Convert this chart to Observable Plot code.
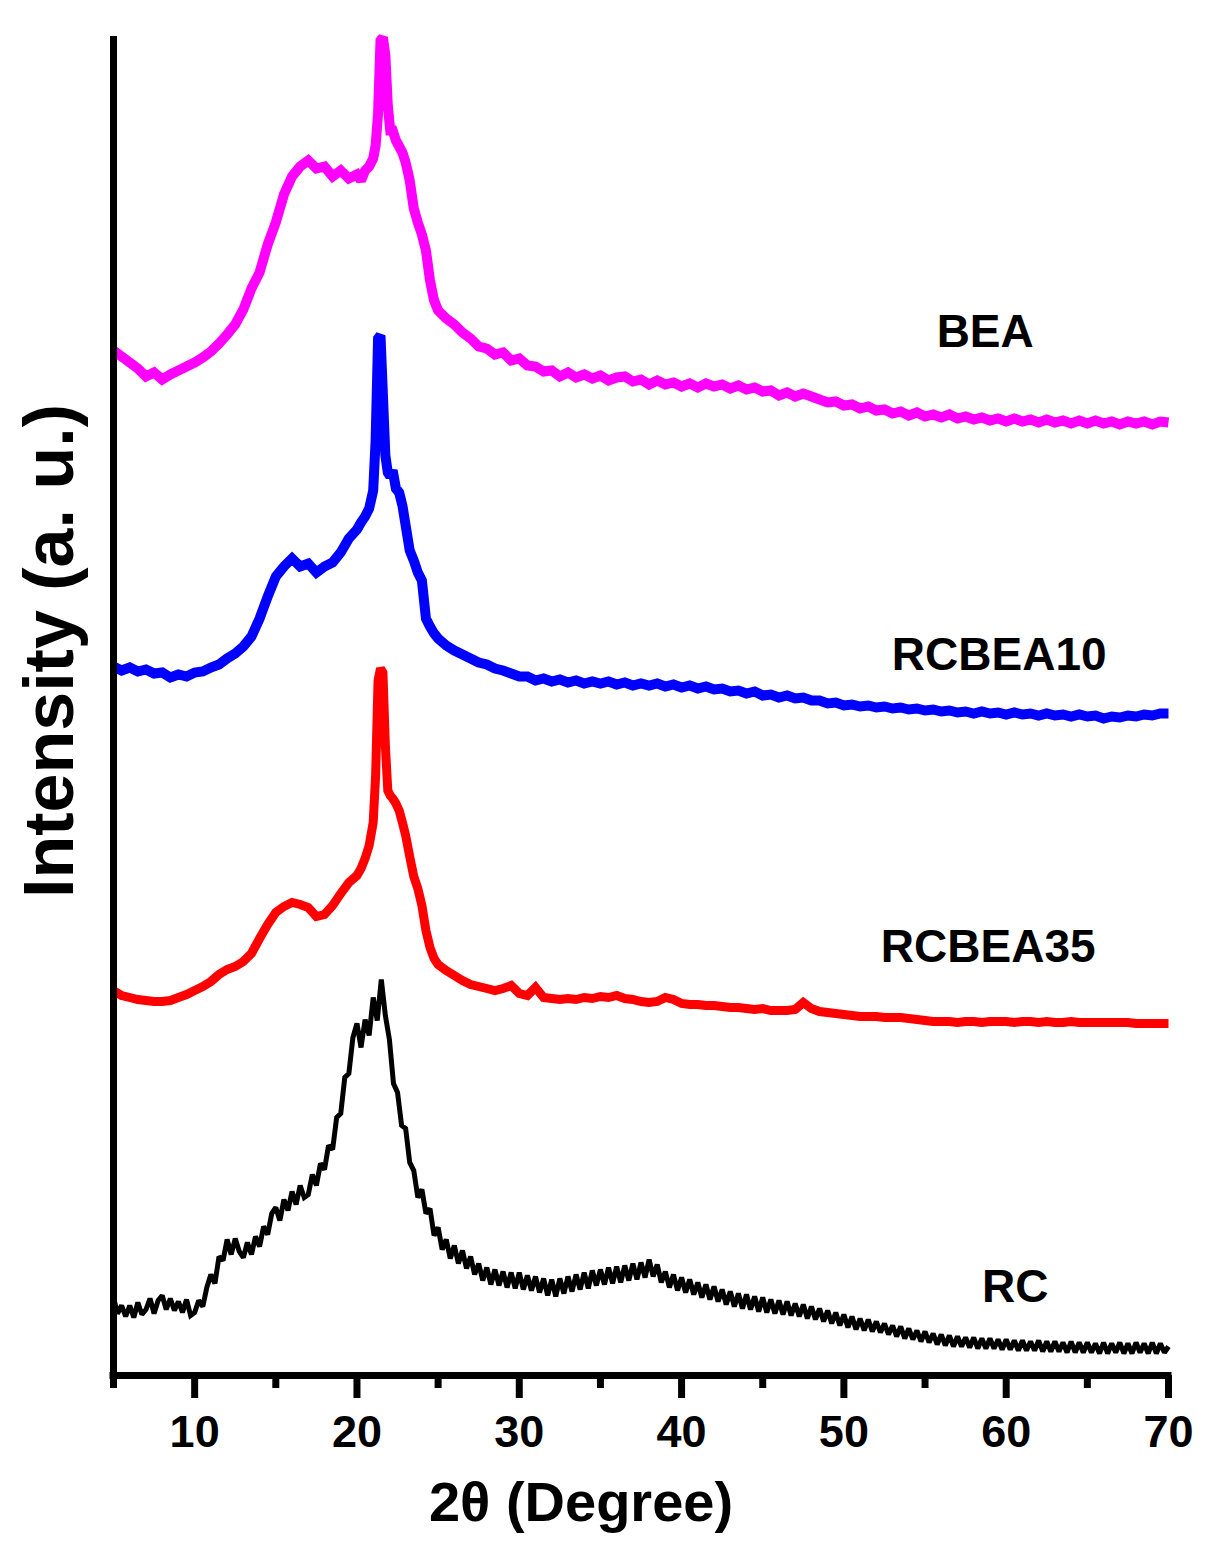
<!DOCTYPE html>
<html>
<head>
<meta charset="utf-8">
<script src="https://cdn.jsdelivr.net/npm/d3@7"></script>
<script src="https://cdn.jsdelivr.net/npm/@observablehq/plot@0.6"></script>
<style>
  html, body { margin: 0; padding: 0; background: #ffffff; }
  #chart svg { display: block; }
</style>
</head>
<body>
<div id="chart"></div>
<script>
// 2θ sampling grid (degrees) for the three smoother patterns
const twoTheta = [
  5, 5.5, 6, 6.5, 7, 7.5, 8, 8.5, 9, 9.5, 10, 10.5, 11, 11.5, 12, 12.5, 13, 13.5, 14, 14.5,
  15, 15.5, 16, 16.5, 17, 17.5, 18, 18.5, 19, 19.5, 20,
  20.25, 20.5, 20.75, 21, 21.15, 21.3, 21.45, 21.6, 21.75, 21.9, 22.05, 22.2, 22.4, 22.6, 22.8,
  23, 23.25, 23.5, 23.75, 24, 24.25, 24.5, 24.75, 25,
  25.5, 26, 26.5, 27, 27.5, 28, 28.5, 29, 29.5, 30,
  30.5, 31, 31.5, 32, 32.5, 33, 33.5, 34, 34.5, 35, 35.5, 36, 36.5, 37, 37.5, 38, 38.5, 39, 39.5, 40,
  40.5, 41, 41.5, 42, 42.5, 43, 43.5, 44, 44.5, 45, 45.5, 46, 46.5, 47, 47.5, 48, 48.5, 49, 49.5, 50,
  50.5, 51, 51.5, 52, 52.5, 53, 53.5, 54, 54.5, 55, 55.5, 56, 56.5, 57, 57.5, 58, 58.5, 59, 59.5, 60,
  60.5, 61, 61.5, 62, 62.5, 63, 63.5, 64, 64.5, 65, 65.5, 66, 66.5, 67, 67.5, 68, 68.5, 69, 69.5, 70
];

// Intensities (a. u., stacked as in the figure)
const bea = [
  1025, 1019, 1013, 1007, 999, 1003, 996, 1001, 1005, 1009, 1013, 1018, 1024, 1032, 1041, 1051, 1066, 1087, 1103, 1131,
  1153, 1181, 1199, 1209, 1215, 1207, 1209, 1199, 1205, 1197, 1201,
  1195, 1205, 1209, 1217, 1230, 1262, 1335, 1338, 1320, 1270, 1245, 1245, 1235, 1229, 1223,
  1213, 1195, 1167, 1153, 1141, 1125, 1095, 1075, 1065,
  1057, 1051, 1043, 1037, 1029, 1027, 1021, 1023, 1015, 1017,
  1010, 1009, 1004, 1005, 999, 1003, 998, 1001, 997, 1000, 995, 998, 999, 994, 996, 991, 995, 991, 993, 989,
  992, 988, 992, 989, 991, 987, 990, 986, 988, 984, 985, 980, 983, 979, 982, 979, 976, 973, 974, 970,
  971, 967, 969, 965, 966, 962, 964, 960, 963, 959, 961, 958, 961, 957, 959, 956, 958, 955, 957, 954,
  957, 954, 956, 953, 956, 953, 955, 952, 955, 952, 955, 952, 954, 951, 954, 952, 954, 951, 954, 953
];

const rcbea10 = [
  709, 705, 708, 704, 706, 702, 703, 698, 701, 699, 703, 704, 708, 711, 717, 722, 729, 739, 757, 779,
  799, 809, 817, 809, 812, 803, 809, 813, 823, 837, 846,
  853, 859, 867, 885, 935, 1037, 1040, 980, 920, 903, 899, 905, 887, 883, 870,
  850, 825, 815, 803, 795, 757, 749, 742, 737,
  730, 725, 721, 717, 713, 711, 707, 705, 702, 699,
  699, 695, 697, 694, 696, 693, 695, 692, 694, 692, 694, 691, 693, 690, 692, 690, 692, 689, 691, 688,
  690, 687, 689, 686, 687, 684, 685, 682, 684, 680, 681, 678, 680, 677, 678, 675, 675, 672, 673, 670,
  671, 669, 670, 668, 669, 667, 668, 666, 667, 665, 666, 664, 665, 663, 664, 662, 664, 662, 663, 661,
  663, 661, 662, 660, 662, 660, 661, 659, 661, 659, 660, 657, 659, 658, 660, 659, 661, 660, 662, 662
];

const rcbea35 = [
  385, 380, 378, 376, 375, 374, 374, 375, 378, 381, 385, 389, 394, 401, 406, 409, 414, 422, 437, 451,
  463, 469, 473, 471, 468, 459, 461, 470, 482, 493, 500,
  507, 517, 530, 553, 600, 695, 707, 703, 630, 585, 580, 577, 572, 565, 553,
  540, 519, 499, 487, 470, 445, 428, 417, 411,
  405, 400, 395, 391, 389, 387, 385, 387, 390, 382,
  380, 388, 378, 377, 376, 377, 376, 378, 377, 379, 378, 380, 377, 376, 374, 373, 374, 378, 376, 372,
  371, 371, 370, 370, 369, 368, 368, 367, 366, 367, 365, 365, 365, 366, 373, 367, 364, 363, 362, 361,
  360, 359, 359, 359, 358, 358, 358, 357, 356, 355, 354, 354, 354, 353, 354, 354, 353, 354, 354, 354,
  353, 354, 354, 353, 354, 353, 353, 354, 353, 353, 353, 353, 353, 353, 353, 352, 352, 352, 352, 352
];

// RC is much noisier: read on a finer 0.25° grid
const twoThetaRC = [
  5, 5.25, 5.5, 5.75, 6, 6.25, 6.5, 6.75, 7, 7.25, 7.5, 7.75, 8, 8.25, 8.5, 8.75, 9, 9.25, 9.5, 9.75,
  10, 10.25, 10.5, 10.75, 11, 11.25, 11.5, 11.75, 12, 12.25, 12.5, 12.75, 13, 13.25, 13.5, 13.75, 14, 14.25, 14.5, 14.75,
  15, 15.25, 15.5, 15.75, 16, 16.25, 16.5, 16.75, 17, 17.25, 17.5, 17.75, 18, 18.25, 18.5, 18.75, 19, 19.25, 19.5, 19.75,
  20, 20.25, 20.5, 20.75, 21, 21.25, 21.5, 21.75, 22, 22.25, 22.5, 22.75, 23, 23.25, 23.5, 23.75, 24, 24.25, 24.5, 24.75,
  25, 25.25, 25.5, 25.75, 26, 26.25, 26.5, 26.75, 27, 27.25, 27.5, 27.75, 28, 28.25, 28.5, 28.75, 29, 29.25, 29.5, 29.75,
  30, 30.25, 30.5, 30.75, 31, 31.25, 31.5, 31.75, 32, 32.25, 32.5, 32.75, 33, 33.25, 33.5, 33.75, 34, 34.25, 34.5, 34.75,
  35, 35.25, 35.5, 35.75, 36, 36.25, 36.5, 36.75, 37, 37.25, 37.5, 37.75, 38, 38.25, 38.5, 38.75, 39, 39.25, 39.5, 39.75,
  40, 40.25, 40.5, 40.75, 41, 41.25, 41.5, 41.75, 42, 42.25, 42.5, 42.75, 43, 43.25, 43.5, 43.75, 44, 44.25, 44.5, 44.75,
  45, 45.25, 45.5, 45.75, 46, 46.25, 46.5, 46.75, 47, 47.25, 47.5, 47.75, 48, 48.25, 48.5, 48.75, 49, 49.25, 49.5, 49.75,
  50, 50.25, 50.5, 50.75, 51, 51.25, 51.5, 51.75, 52, 52.25, 52.5, 52.75, 53, 53.25, 53.5, 53.75, 54, 54.25, 54.5, 54.75,
  55, 55.25, 55.5, 55.75, 56, 56.25, 56.5, 56.75, 57, 57.25, 57.5, 57.75, 58, 58.25, 58.5, 58.75, 59, 59.25, 59.5, 59.75,
  60, 60.25, 60.5, 60.75, 61, 61.25, 61.5, 61.75, 62, 62.25, 62.5, 62.75, 63, 63.25, 63.5, 63.75, 64, 64.25, 64.5, 64.75,
  65, 65.25, 65.5, 65.75, 66, 66.25, 66.5, 66.75, 67, 67.25, 67.5, 67.75, 68, 68.25, 68.5, 68.75, 69, 69.25, 69.5, 69.75,
  70
];

const rc = [
  78, 62, 70, 59, 70, 58, 73, 61, 66, 77, 62, 75, 80, 66, 77, 65, 74, 63, 76, 60,
  63, 75, 69, 88, 101, 92, 119, 115, 136, 121, 137, 124, 118, 133, 121, 139, 129, 149, 141, 162,
  168, 155, 176, 165, 184, 171, 190, 178, 181, 201, 190, 212, 206, 230, 226, 258, 262, 298, 302, 338,
  352, 328, 356, 340, 378, 355, 396, 360, 336, 292, 283, 250, 247, 213, 205, 178, 186, 162, 167, 140,
  148, 126, 136, 117, 130, 112, 125, 107, 119, 101, 112, 95, 108, 91, 106, 90, 104, 88, 103, 87,
  103, 86, 100, 85, 99, 83, 97, 80, 96, 79, 97, 82, 99, 84, 101, 86, 103, 87, 105, 90,
  106, 91, 108, 92, 109, 93, 110, 95, 112, 96, 113, 98, 116, 99, 111, 93, 104, 88, 101, 85,
  98, 83, 96, 81, 93, 78, 91, 76, 89, 74, 86, 71, 84, 69, 82, 67, 81, 66, 79, 64,
  78, 63, 76, 62, 75, 61, 74, 60, 72, 59, 71, 57, 69, 56, 67, 54, 65, 52, 63, 50,
  61, 48, 59, 46, 57, 45, 56, 44, 54, 43, 52, 41, 50, 39, 49, 37, 47, 36, 45, 34,
  44, 33, 42, 31, 41, 30, 40, 29, 39, 29, 38, 28, 38, 27, 37, 27, 37, 27, 36, 26,
  36, 26, 35, 25, 35, 25, 34, 25, 35, 24, 34, 24, 34, 24, 33, 23, 34, 23, 33, 23,
  33, 23, 32, 22, 33, 22, 32, 23, 33, 22, 32, 22, 33, 23, 32, 22, 33, 22, 32, 23,
  29
];

const seriesNames = ["RC", "RCBEA35", "RCBEA10", "BEA"];
const seriesGrids = [twoThetaRC, twoTheta, twoTheta, twoTheta];
const seriesValues = [rc, rcbea35, rcbea10, bea];
const seriesColors = ["#000000", "#ff0000", "#0000ff", "#ff00ff"];

const majorTicks = [10, 20, 30, 40, 50, 60, 70];
const minorTicks = [5, 15, 25, 35, 45, 55, 65];
const xLabel = "2θ (Degree)";
const yLabel = "Intensity (a. u.)";

// ---- layout & styles (not data) ----
const FONT = "'Liberation Sans', Arial, Helvetica, sans-serif";
const W = 1211, H = 1544, MT = 36, MB = 169, ML = 113, MR = 43;
const frameH = H - MT - MB;
const AXIS_W = 7;
const lineWidths = {RC: 5, RCBEA35: 9, RCBEA10: 10, BEA: 10};
const labelOffsets = {BEA: [-21, -89], RCBEA10: [-7, -59], RCBEA35: [-18, -74], RC: [9, -52]};
const labelAnchorTheta = 60;

const tables = seriesValues.map((vals, k) => seriesGrids[k].map((t, i) => ({theta: t, intensity: vals[i]})));
seriesValues.forEach((v, k) => { if (v.length !== seriesGrids[k].length) console.error("length mismatch", seriesNames[k], v.length, seriesGrids[k].length); });

const marks = [];
seriesNames.forEach((name, k) => {
  marks.push(Plot.line(tables[k], {
    x: "theta", y: "intensity", stroke: seriesColors[k], strokeWidth: lineWidths[name],
    strokeLinejoin: "miter", strokeMiterlimit: 2, strokeLinecap: "butt"
  }));
});
seriesNames.forEach((name, k) => {
  const [dx, dy] = labelOffsets[name];
  const anchor = tables[k][seriesGrids[k].indexOf(labelAnchorTheta)];
  marks.push(Plot.text([anchor], {
    x: "theta", y: "intensity", text: () => name, dx, dy,
    fontSize: 46, fontWeight: "bold", fontFamily: FONT, fill: "#000", lineAnchor: "middle", textAnchor: "middle"
  }));
});

marks.push(
  // tick labels (the ticks themselves are drawn as thick rules hanging below the frame)
  Plot.axisX({ticks: majorTicks, tickSize: 0, tickPadding: 40, fontSize: 45, fontWeight: "bold", fontFamily: FONT, label: null, tickFormat: d => String(d)}),
  Plot.ruleX(majorTicks, {insetTop: frameH, insetBottom: -23, strokeWidth: AXIS_W, stroke: "#000"}),
  Plot.ruleX(minorTicks, {insetTop: frameH, insetBottom: -13, strokeWidth: AXIS_W, stroke: "#000"}),
  Plot.ruleX([5], {strokeWidth: AXIS_W, stroke: "#000"}),
  Plot.ruleY([0], {strokeWidth: AXIS_W, stroke: "#000", strokeLinecap: "square"}),
  Plot.text([xLabel], {frameAnchor: "bottom", text: d => d, dx: -60, dy: 145, lineAnchor: "bottom", textAnchor: "middle",
    fontSize: 56, fontWeight: "bold", fontFamily: FONT, fill: "#000"}),
  Plot.text([yLabel], {frameAnchor: "left", text: d => d, rotate: -90, dx: -41, dy: -55, lineAnchor: "bottom", textAnchor: "middle",
    fontSize: 70, fontWeight: "bold", fontFamily: FONT, fill: "#000"})
);

const chart = Plot.plot({
  width: W,
  height: H,
  marginLeft: ML,
  marginRight: MR,
  marginTop: MT,
  marginBottom: MB,
  x: {domain: [5, 70]},
  y: {domain: [0, 1339], axis: null},
  style: {fontFamily: FONT, background: "#ffffff", color: "#000", overflow: "visible"},
  marks
});

document.getElementById("chart").appendChild(chart);
</script>
</body>
</html>
